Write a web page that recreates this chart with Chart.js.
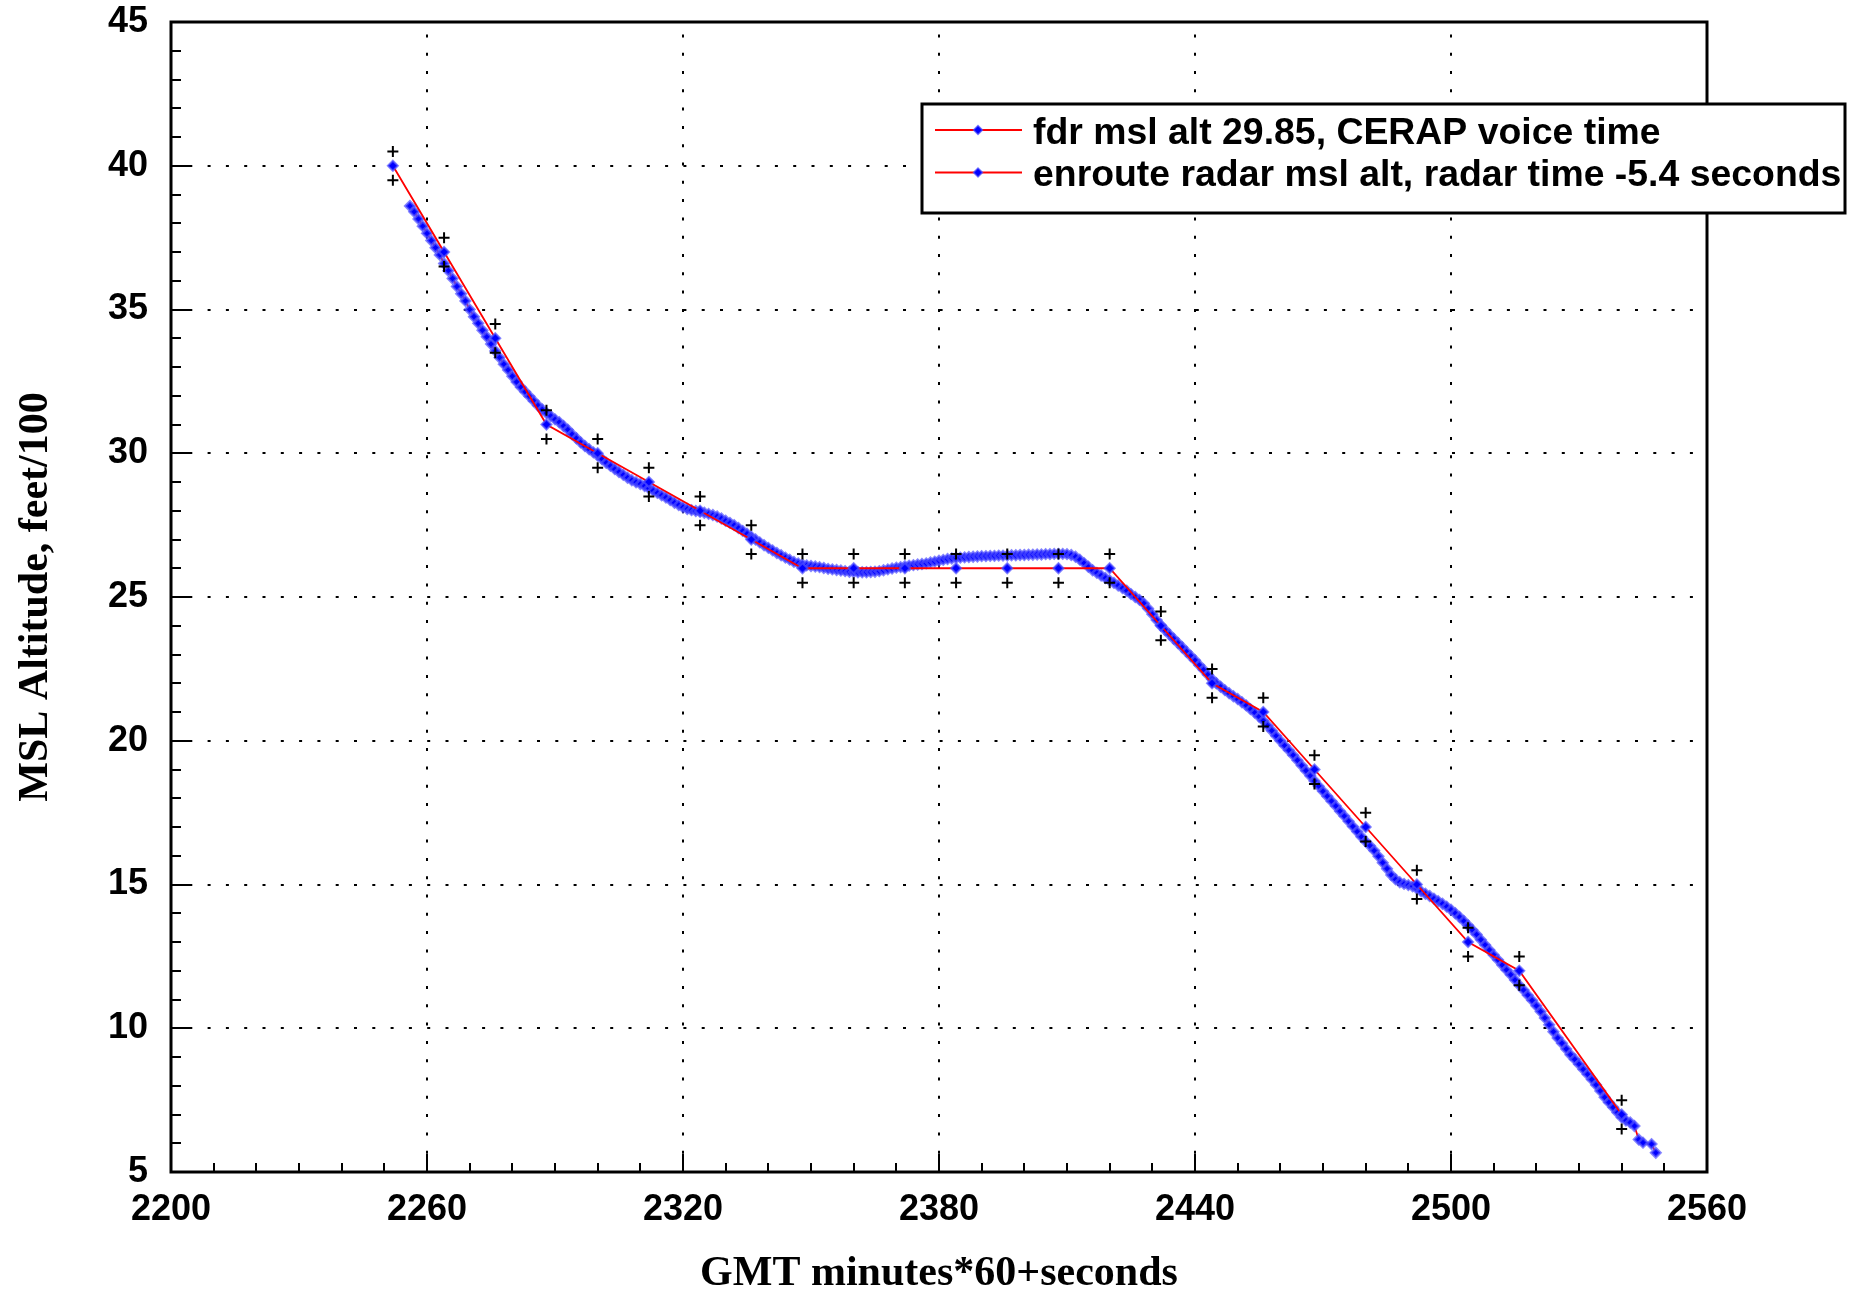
<!DOCTYPE html>
<html>
<head>
<meta charset="utf-8">
<script src="https://cdn.jsdelivr.net/npm/chart.js@4.4.0/dist/chart.umd.min.js"></script>
<style>
html,body{margin:0;padding:0;background:#ffffff;}
#wrap{width:1864px;height:1294px;position:relative;}
canvas{display:block;}
</style>
</head>
<body>
<div id="wrap"><canvas id="c" width="1864" height="1294"></canvas></div>
<script>
// ---------------- DATA ----------------
const seriesLabels = [
  'fdr msl alt 29.85, CERAP voice time',
  'enroute radar msl alt, radar time -5.4 seconds'
];

// FDR (1 per second)
const fdrTime = [
  2256,2257,2258,2259,2260,2261,2262,2263,2264,2265,
  2266,2267,2268,2269,2270,2271,2272,2273,2274,2275,
  2276,2277,2278,2279,2280,2281,2282,2283,2284,2285,
  2286,2287,2288,2289,2290,2291,2292,2293,2294,2295,
  2296,2297,2298,2299,2300,2301,2302,2303,2304,2305,
  2306,2307,2308,2309,2310,2311,2312,2313,2314,2315,
  2316,2317,2318,2319,2320,2321,2322,2323,2324,2325,
  2326,2327,2328,2329,2330,2331,2332,2333,2334,2335,
  2336,2337,2338,2339,2340,2341,2342,2343,2344,2345,
  2346,2347,2348,2349,2350,2351,2352,2353,2354,2355,
  2356,2357,2358,2359,2360,2361,2362,2363,2364,2365,
  2366,2367,2368,2369,2370,2371,2372,2373,2374,2375,
  2376,2377,2378,2379,2380,2381,2382,2383,2384,2385,
  2386,2387,2388,2389,2390,2391,2392,2393,2394,2395,
  2396,2397,2398,2399,2400,2401,2402,2403,2404,2405,
  2406,2407,2408,2409,2410,2411,2412,2413,2414,2415,
  2416,2417,2418,2419,2420,2421,2422,2423,2424,2425,
  2426,2427,2428,2429,2430,2431,2432,2433,2434,2435,
  2436,2437,2438,2439,2440,2441,2442,2443,2444,2445,
  2446,2447,2448,2449,2450,2451,2452,2453,2454,2455,
  2456,2457,2458,2459,2460,2461,2462,2463,2464,2465,
  2466,2467,2468,2469,2470,2471,2472,2473,2474,2475,
  2476,2477,2478,2479,2480,2481,2482,2483,2484,2485,
  2486,2487,2488,2489,2490,2491,2492,2493,2494,2495,
  2496,2497,2498,2499,2500,2501,2502,2503,2504,2505,
  2506,2507,2508,2509,2510,2511,2512,2513,2514,2515,
  2516,2517,2518,2519,2520,2521,2522,2523,2524,2525,
  2526,2527,2528,2529,2530,2531,2532,2533,2534,2535,
  2536,2537,2538,2539,2540,2541,2542,2543,2544,2545,
  2547,2548
];
const fdrAlt = [
  38.60,38.40,38.15,37.90,37.65,37.40,37.15,36.90,36.60,36.35,
  36.08,35.80,35.55,35.30,35.00,34.75,34.52,34.28,34.05,33.80,
  33.56,33.33,33.10,32.90,32.68,32.48,32.30,32.14,31.98,31.82,
  31.66,31.52,31.40,31.30,31.18,31.08,30.95,30.82,30.66,30.52,
  30.38,30.25,30.14,30.03,29.92,29.80,29.67,29.56,29.45,29.35,
  29.25,29.15,29.06,28.99,28.93,28.86,28.78,28.70,28.62,28.54,
  28.46,28.37,28.28,28.20,28.12,28.06,28.02,27.99,27.96,27.93,
  27.89,27.85,27.80,27.73,27.65,27.58,27.50,27.40,27.30,27.20,
  27.10,27.00,26.90,26.80,26.71,26.62,26.53,26.45,26.37,26.30,
  26.22,26.17,26.13,26.10,26.08,26.06,26.04,26.01,25.98,25.96,
  25.94,25.92,25.90,25.88,25.87,25.86,25.86,25.86,25.87,25.88,
  25.90,25.93,25.96,25.99,26.02,26.04,26.07,26.09,26.11,26.13,
  26.15,26.17,26.20,26.23,26.26,26.29,26.32,26.34,26.36,26.37,
  26.38,26.39,26.40,26.41,26.42,26.42,26.43,26.43,26.44,26.44,
  26.44,26.45,26.45,26.46,26.46,26.47,26.47,26.48,26.48,26.49,
  26.49,26.50,26.50,26.50,26.49,26.46,26.40,26.30,26.18,26.05,
  25.93,25.84,25.75,25.66,25.58,25.49,25.40,25.31,25.22,25.10,
  25.00,24.90,24.78,24.60,24.40,24.20,24.02,23.85,23.70,23.55,
  23.40,23.25,23.10,22.95,22.80,22.63,22.47,22.30,22.14,22.00,
  21.88,21.76,21.65,21.55,21.45,21.34,21.23,21.10,20.98,20.84,
  20.70,20.53,20.35,20.17,20.00,19.83,19.67,19.50,19.32,19.14,
  18.96,18.78,18.60,18.42,18.24,18.07,17.90,17.73,17.55,17.38,
  17.20,17.02,16.84,16.66,16.50,16.35,16.18,15.98,15.76,15.55,
  15.33,15.18,15.08,15.02,14.98,14.94,14.86,14.76,14.68,14.60,
  14.51,14.42,14.33,14.23,14.12,14.00,13.87,13.73,13.58,13.42,
  13.26,13.08,12.90,12.72,12.55,12.38,12.20,12.03,11.86,11.68,
  11.50,11.33,11.15,10.97,10.78,10.58,10.36,10.12,9.88,9.66,
  9.48,9.28,9.08,8.92,8.75,8.57,8.40,8.22,8.03,7.82,
  7.60,7.42,7.25,7.07,6.90,6.79,6.72,6.60,6.13,6.02,
  5.97,5.67
];

// Enroute radar (about every 12 s), Mode C altitude +/- half a hundred feet
const radarTime = [2252,2264,2276,2288,2300,2312,2324,2336,2348,2360,2372,2384,
                   2396,2408,2420,2432,2444,2456,2468,2480,2492,2504,2516,2540];
const radarAlt  = [40,37,34,31,30,29,28,27,26,26,26,26,
                   26,26,26,24,22,21,19,17,15,13,12,7];
const radarErr = 0.5;

// Axis ticks
const xTickValues = [2200,2260,2320,2380,2440,2500,2560];
const yTickValues = [5,10,15,20,25,30,35,40,45];
const xMinorStep = 10;
const yMinorStep = 1;

// ---------------- CHART ----------------
const fdrPoints = fdrTime.map((t,i)=>({x:t, y:fdrAlt[i]}));
const radarPoints = radarTime.map((t,i)=>({x:t, y:radarAlt[i]}));
const crossPoints = [];
radarTime.forEach((t,i)=>{
  crossPoints.push({x:t, y:radarAlt[i]+radarErr});
  crossPoints.push({x:t, y:radarAlt[i]-radarErr});
});

const tickFont = {family:'"Liberation Sans", Arial, Helvetica, sans-serif', size:36, weight:'bold'};
const titleFont = {family:'"Liberation Serif", "Times New Roman", serif', size:42, weight:'bold'};
const haloBlue = 'rgba(80,80,255,0.7)';

function fixBox(w, h){
  return function(scale){
    if (w !== null) scale.width = w;
    if (h !== null) scale.height = h;
    scale.paddingLeft = 0; scale.paddingRight = 0;
    scale.paddingTop = 0; scale.paddingBottom = 0;
  };
}

const axesPlugin = {
  id: 'rootAxes',
  beforeDatasetsDraw(chart){
    const {ctx, chartArea:a, scales:{x, y}} = chart;
    ctx.save();
    ctx.strokeStyle = '#000';
    ctx.lineWidth = 2;
    ctx.setLineDash([3, 15.3]);
    xTickValues.forEach(v=>{
      if (v === x.min || v === x.max) return;
      const px = Math.round(x.getPixelForValue(v));
      ctx.beginPath(); ctx.moveTo(px, a.bottom); ctx.lineTo(px, a.top); ctx.stroke();
    });
    yTickValues.forEach(v=>{
      if (v === y.min || v === y.max) return;
      const py = Math.round(y.getPixelForValue(v));
      ctx.beginPath(); ctx.moveTo(a.left, py); ctx.lineTo(a.right, py); ctx.stroke();
    });
    ctx.restore();
  },
  afterDatasetsDraw(chart){
    const {ctx, chartArea:a, scales:{x, y}} = chart;
    ctx.save();
    ctx.strokeStyle = '#000';
    ctx.lineWidth = 2;
    ctx.setLineDash([]);
    for (let v = x.min; v <= x.max + 1e-9; v += xMinorStep){
      const major = xTickValues.includes(v);
      const px = Math.round(x.getPixelForValue(v));
      const len = major ? 18 : 9;
      ctx.beginPath(); ctx.moveTo(px, a.bottom); ctx.lineTo(px, a.bottom - len); ctx.stroke();
    }
    for (let v = y.min; v <= y.max + 1e-9; v += yMinorStep){
      const major = yTickValues.includes(v);
      const py = Math.round(y.getPixelForValue(v));
      const len = major ? 21 : 10;
      ctx.beginPath(); ctx.moveTo(a.left, py); ctx.lineTo(a.left + len, py); ctx.stroke();
    }
    ctx.lineWidth = 3;
    ctx.strokeRect(a.left, a.top, a.right - a.left, a.bottom - a.top);
    ctx.restore();
  },
  afterDraw(chart){
    // legend box
    const ctx = chart.ctx;
    const box = {left:922, top:104, right:1845, bottom:213};
    ctx.save();
    ctx.fillStyle = '#fff';
    ctx.fillRect(box.left, box.top, box.right-box.left, box.bottom-box.top);
    ctx.strokeStyle = '#000';
    ctx.lineWidth = 3;
    ctx.strokeRect(box.left, box.top, box.right-box.left, box.bottom-box.top);
    const rows = [130, 172.5];
    [0,1].forEach(i=>{
      const ds = chart.data.datasets[i];
      const yy = rows[i];
      ctx.strokeStyle = ds.borderColor;
      ctx.lineWidth = 1.8;
      ctx.beginPath(); ctx.moveTo(935, yy); ctx.lineTo(1022, yy); ctx.stroke();
      ctx.fillStyle = ds.pointBackgroundColor;
      ctx.strokeStyle = haloBlue;
      ctx.lineWidth = 1.5;
      const r = 4.5;
      ctx.beginPath();
      ctx.moveTo(978, yy - r); ctx.lineTo(978 + r, yy); ctx.lineTo(978, yy + r); ctx.lineTo(978 - r, yy); ctx.closePath();
      ctx.fill(); ctx.stroke();
      ctx.fillStyle = '#000';
      ctx.font = 'bold 37.4px "Liberation Sans", Arial, Helvetica, sans-serif';
      ctx.textBaseline = 'alphabetic';
      ctx.textAlign = 'left';
      ctx.fillText(ds.label, 1033, yy + 13.5);
    });
    ctx.restore();
  }
};

new Chart(document.getElementById('c'), {
  type: 'scatter',
  data: {
    datasets: [
      {
        label: seriesLabels[0],
        data: fdrPoints,
        showLine: true,
        borderColor: '#ff0000',
        borderWidth: 1.8,
        pointStyle: 'rectRot',
        pointRadius: 4.6,
        pointBackgroundColor: '#0000ff',
        pointBorderColor: haloBlue,
        pointBorderWidth: 2.6,
        order: 3
      },
      {
        label: seriesLabels[1],
        data: radarPoints,
        showLine: true,
        borderColor: '#ff0000',
        borderWidth: 1.8,
        pointStyle: 'rectRot',
        pointRadius: 5,
        pointBackgroundColor: '#0000ff',
        pointBorderColor: haloBlue,
        pointBorderWidth: 2,
        order: 2
      },
      {
        label: 'radar altitude bounds',
        data: crossPoints,
        showLine: false,
        pointStyle: 'cross',
        pointRadius: 5.5,
        pointBorderColor: '#000',
        pointBorderWidth: 2,
        pointBackgroundColor: '#000',
        order: 1
      }
    ]
  },
  options: {
    responsive: false,
    animation: false,
    devicePixelRatio: 1,
    layout: {padding: {left:0, top:22, right:157, bottom:0}},
    plugins: {legend: {display:false}, tooltip: {enabled:false}},
    elements: {line: {tension: 0}},
    scales: {
      x: {
        type: 'linear',
        min: 2200, max: 2560,
        afterBuildTicks: s => { s.ticks = xTickValues.map(v=>({value:v})); },
        afterFit: fixBox(null, 122),
        grid: {display:false, drawTicks:false},
        border: {display:false},
        ticks: {font: tickFont, color:'#000', padding: 16, autoSkip:false, maxRotation:0, minRotation:0,
                callback: v => String(v)},
        title: {display:true, text:'GMT minutes*60+seconds', font: titleFont, color:'#000', padding:{top:0,bottom:-5}}
      },
      y: {
        type: 'linear',
        min: 5, max: 45,
        afterBuildTicks: s => { s.ticks = yTickValues.map(v=>({value:v})); },
        afterFit: fixBox(171, null),
        grid: {display:false, drawTicks:false},
        border: {display:false},
        ticks: {font: tickFont, color:'#000', padding: 23, autoSkip:false,
                callback: v => String(v)},
        title: {display:true, text:'MSL Altitude, feet/100', font: titleFont, color:'#000', padding:{top:11,bottom:0}}
      }
    }
  },
  plugins: [axesPlugin]
});
</script>
</body>
</html>
